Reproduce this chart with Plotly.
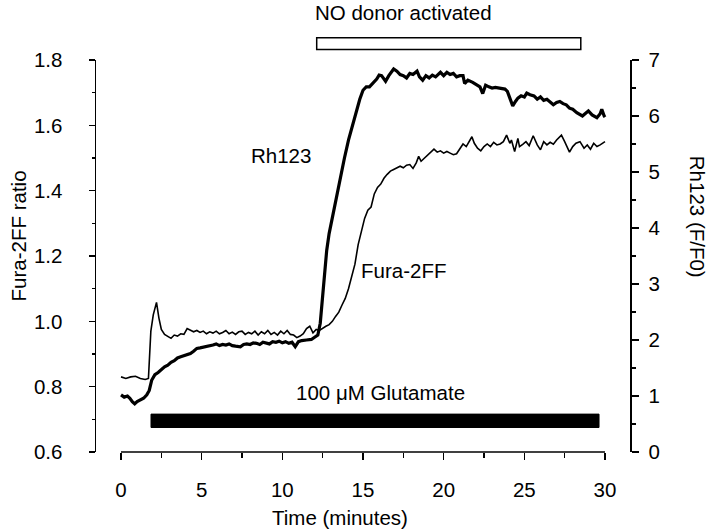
import plotly.graph_objects as go

# ---- data ----
fura_t = [0.0, 0.3, 0.6, 0.9, 1.2, 1.5, 1.7, 1.85, 2.0, 2.2, 2.35, 2.5, 2.7, 2.9, 3.1, 3.3, 3.5, 3.7, 3.9,
          4.1, 4.3, 4.5, 4.7, 4.9, 5.1, 5.3, 5.5, 5.7, 5.9, 6.1, 6.3, 6.5, 6.7, 6.9, 7.1, 7.3, 7.5, 7.7, 7.9,
          8.1, 8.3, 8.5, 8.7, 8.9, 9.1, 9.3, 9.5, 9.7, 9.9, 10.1, 10.3, 10.5, 10.7, 10.9, 11.1, 11.3, 11.5,
          11.7, 11.9, 12.1, 12.3, 12.5, 12.7, 12.9, 13.1, 13.3, 13.5, 13.7, 13.9, 14.1, 14.3, 14.5, 14.7,
          14.9, 15.1, 15.3, 15.5, 15.7, 15.9, 16.1, 16.3, 16.5, 16.7, 16.9, 17.1, 17.3, 17.5, 17.7, 17.9,
          18.1, 18.3, 18.45, 18.6, 18.8, 19.0, 19.2, 19.4, 19.6, 19.8, 20.0, 20.2, 20.4, 20.6, 20.8, 21.0,
          21.2, 21.4, 21.6, 21.75, 21.9, 22.1, 22.3, 22.5, 22.7, 22.9, 23.1, 23.3, 23.5, 23.7, 23.9, 24.1,
          24.2, 24.4, 24.6, 24.7, 24.9, 25.1, 25.3, 25.55, 25.8, 26.0, 26.2, 26.4, 26.6, 26.8, 27.0, 27.3,
          27.5, 27.8, 28.0, 28.2, 28.45, 28.7, 28.9, 29.1, 29.3, 29.5, 29.7, 29.85, 30.0]
fura_ratio = [0.83, 0.825, 0.83, 0.832, 0.825, 0.822, 0.825, 0.97, 1.02, 1.058, 1.01, 0.975, 0.96, 0.955,
              0.948, 0.958, 0.955, 0.962, 0.96, 0.978, 0.972, 0.968, 0.972, 0.966, 0.97, 0.962, 0.968,
              0.964, 0.97, 0.962, 0.966, 0.972, 0.962, 0.967, 0.96, 0.968, 0.97, 0.96, 0.966, 0.962, 0.97,
              0.958, 0.968, 0.962, 0.972, 0.96, 0.966, 0.958, 0.97, 0.962, 0.972, 0.96, 0.958, 0.95, 0.955,
              0.962, 0.978, 0.985, 0.965, 0.975, 0.972, 0.98, 0.985, 0.99, 1.0, 1.015, 1.028, 1.05, 1.07,
              1.1, 1.14, 1.175, 1.235, 1.28, 1.315, 1.34, 1.35, 1.39, 1.41, 1.42, 1.438, 1.45, 1.46, 1.465,
              1.47, 1.475, 1.47, 1.478, 1.48, 1.468, 1.485, 1.505, 1.49, 1.5, 1.51, 1.52, 1.527, 1.518,
              1.522, 1.515, 1.52, 1.515, 1.51, 1.513, 1.53, 1.543, 1.535, 1.55, 1.565, 1.545, 1.53, 1.522,
              1.535, 1.543, 1.535, 1.548, 1.54, 1.543, 1.55, 1.57, 1.545, 1.555, 1.52, 1.56, 1.535, 1.542,
              1.55, 1.538, 1.568, 1.54, 1.525, 1.55, 1.54, 1.548, 1.542, 1.555, 1.57, 1.55, 1.518, 1.535,
              1.545, 1.55, 1.53, 1.54, 1.527, 1.545, 1.535, 1.54, 1.545, 1.55]

rh_t = [0.0, 0.2, 0.4, 0.55, 0.7, 0.85, 1.0, 1.2, 1.4, 1.6, 1.75, 1.9, 2.1, 2.3, 2.5, 2.7, 2.9, 3.1, 3.3,
        3.5, 3.7, 3.9, 4.1, 4.3, 4.5, 4.7, 4.9, 5.1, 5.3, 5.5, 5.7, 5.9, 6.1, 6.3, 6.5, 6.7, 6.9, 7.1, 7.4,
        7.6, 7.8, 8.0, 8.2, 8.4, 8.6, 8.8, 9.0, 9.2, 9.4, 9.6, 9.8, 10.0, 10.2, 10.4, 10.6, 10.8, 11.0,
        11.2, 11.5, 11.8, 12.0, 12.2, 12.35, 12.45, 12.6, 12.75, 12.9, 13.1, 13.3, 13.6, 13.85, 14.1,
        14.35, 14.6, 14.8, 15.0, 15.2, 15.4, 15.6, 15.85, 16.0, 16.15, 16.4, 16.6, 16.9, 17.1, 17.3, 17.5,
        17.7, 17.9, 18.1, 18.35, 18.5, 18.7, 18.9, 19.1, 19.3, 19.5, 19.8, 20.0, 20.2, 20.4, 20.6, 20.8,
        21.0, 21.2, 21.3, 21.5, 21.8, 22.05, 22.25, 22.42, 22.6, 22.8, 23.0, 23.2, 23.5, 23.8, 23.95,
        24.1, 24.28, 24.45, 24.6, 24.8, 25.0, 25.15, 25.35, 25.6, 25.8, 26.0, 26.2, 26.4, 26.6, 26.8,
        27.0, 27.2, 27.4, 27.6, 27.8, 28.0, 28.25, 28.45, 28.6, 28.8, 28.97, 29.2, 29.5, 29.7, 29.8,
        29.95, 30.0]
rh_ff0 = [1.02, 0.98, 1.0, 0.96, 0.9, 0.86, 0.9, 0.93, 0.96, 1.02, 1.1, 1.28, 1.38, 1.42, 1.48, 1.52,
          1.55, 1.6, 1.63, 1.68, 1.7, 1.72, 1.74, 1.76, 1.8, 1.85, 1.86, 1.87, 1.88, 1.9, 1.91, 1.93, 1.9,
          1.92, 1.91, 1.93, 1.9, 1.89, 1.88, 1.92, 1.93, 1.92, 1.95, 1.94, 1.92, 1.96, 1.95, 1.93, 1.97,
          1.96, 1.98, 1.95, 1.97, 1.94, 1.96, 1.88, 1.97, 1.99, 2.0, 2.01, 2.05, 2.09, 2.3, 2.6, 3.1, 3.6,
          3.9, 4.2, 4.5, 4.92, 5.25, 5.57, 5.85, 6.11, 6.3, 6.46, 6.52, 6.52, 6.58, 6.66, 6.73, 6.72,
          6.62, 6.72, 6.84, 6.8, 6.74, 6.72, 6.68, 6.76, 6.74, 6.8, 6.7, 6.64, 6.72, 6.68, 6.73, 6.7,
          6.78, 6.72, 6.78, 6.74, 6.76, 6.7, 6.72, 6.72, 6.58, 6.64, 6.6, 6.56, 6.52, 6.4, 6.55, 6.52,
          6.5, 6.51, 6.49, 6.48, 6.44, 6.32, 6.18, 6.26, 6.32, 6.36, 6.34, 6.41, 6.38, 6.36, 6.3, 6.34,
          6.28, 6.3, 6.24, 6.2, 6.24, 6.26, 6.22, 6.2, 6.14, 6.12, 6.06, 6.02, 6.0, 6.05, 6.09, 6.02,
          5.97, 6.04, 6.12, 6.0, 5.98]

glutamate_period = [1.86, 29.63]   # minutes
no_donor_period = [12.13, 28.5]    # minutes

x_ticks = [0, 5, 10, 15, 20, 25, 30]

FONT = "Liberation Sans, Arial, Helvetica, sans-serif"
fs = 20.5

fig = go.Figure()
fig.add_trace(go.Scatter(x=fura_t, y=fura_ratio, mode="lines", name="Fura-2FF",
                         line=dict(color="black", width=1.6), yaxis="y"))
fig.add_trace(go.Scatter(x=rh_t, y=rh_ff0, mode="lines", name="Rh123",
                         line=dict(color="black", width=3.2), yaxis="y2"))

# x-axis baseline (detached from the y axes)
fig.add_shape(type="line", xref="x", yref="paper", x0=x_ticks[0], x1=x_ticks[-1], y0=0, y1=0,
              line=dict(color="black", width=1.5))
# glutamate bar
fig.add_shape(type="rect", xref="x", yref="y", x0=glutamate_period[0], x1=glutamate_period[1],
              y0=0.675, y1=0.716, fillcolor="black", line=dict(color="black", width=1))
# NO donor bar (above the plot)
fig.add_shape(type="rect", xref="x", yref="paper", x0=no_donor_period[0], x1=no_donor_period[1],
              y0=1.027, y1=1.057, fillcolor="white", line=dict(color="black", width=1.5))

ann = dict(showarrow=False, xanchor="center", yanchor="middle",
           font=dict(family=FONT, size=fs, color="black"))
fig.add_annotation(x=17.48, y=1.122, xref="x", yref="paper", text="NO donor activated", **ann)
fig.add_annotation(x=16.06, y=0.783, xref="x", yref="y", text="100 μM Glutamate", **ann)
fig.add_annotation(x=9.92, y=1.509, xref="x", yref="y", text="Rh123", **ann)
fig.add_annotation(x=17.5, y=1.157, xref="x", yref="y", text="Fura-2FF", **ann)
fig.add_annotation(x=0.457, y=-0.166, xref="paper", yref="paper", text="Time (minutes)", **ann)
fig.add_annotation(x=-0.146, y=0.55, xref="paper", yref="paper", text="Fura-2FF ratio",
                   textangle=-90, **ann)
fig.add_annotation(x=1.1255, y=0.6, xref="paper", yref="paper", text="Rh123 (F/F0)",
                   textangle=90, **ann)

fig.update_layout(
    template="none",
    width=714, height=532,
    margin=dict(l=96, r=84, t=60, b=80, autoexpand=False),
    paper_bgcolor="white", plot_bgcolor="white",
    showlegend=False,
    hovermode=False,
    font=dict(family=FONT, size=fs, color="black"),
    xaxis=dict(range=[-1.55, 31.55], showgrid=False, zeroline=False, showline=False, automargin=False,
               tickvals=x_ticks, ticks="outside", ticklen=7, tickwidth=1.5, tickcolor="black",
               ticklabelstandoff=12,
               minor=dict(tickvals=[2.5, 7.5, 12.5, 17.5, 22.5, 27.5], ticks="outside",
                          ticklen=5, tickwidth=1.2, tickcolor="black")),
    yaxis=dict(range=[0.6, 1.8], showgrid=False, zeroline=False, showline=True, linewidth=1.5,
               automargin=False,
               linecolor="black", dtick=0.2, tick0=0.6, tickformat=".1f", ticks="outside",
               ticklen=6, tickwidth=1.5, tickcolor="black", ticklabelstandoff=22,
               minor=dict(dtick=0.1, ticks="outside", ticklen=3, tickwidth=1.2, tickcolor="black")),
    yaxis2=dict(range=[0, 7], overlaying="y", side="right", showgrid=False, zeroline=False,
                automargin=False,
                showline=True, linewidth=1.5, linecolor="black", dtick=1, ticks="outside",
                ticklen=7, tickwidth=1.5, tickcolor="black", ticklabelstandoff=6,
                minor=dict(dtick=0.5, ticks="outside", ticklen=4, tickwidth=1.2, tickcolor="black")),
)

fig.write_html("out.html", config={"displayModeBar": False, "staticPlot": True},
               post_script="document.body.style.margin='0px';")
